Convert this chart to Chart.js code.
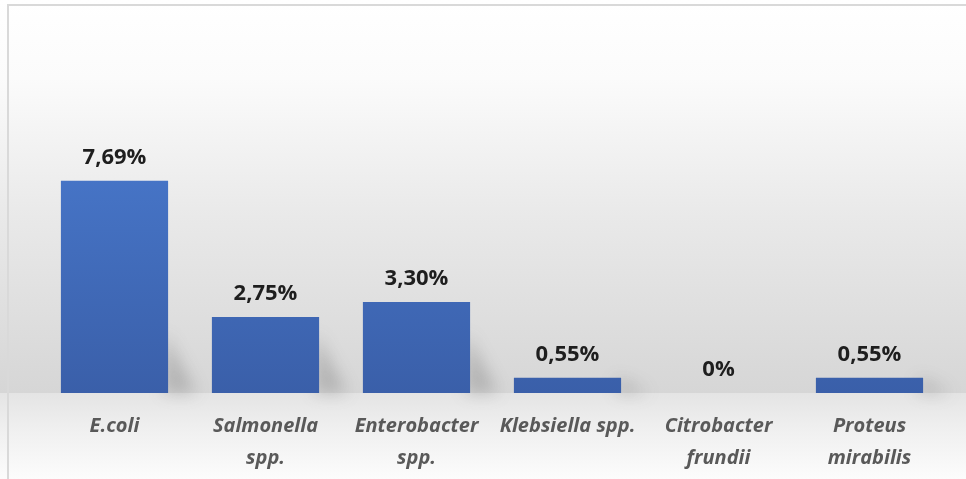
<!DOCTYPE html>
<html>
<head>
<meta charset="utf-8">
<script src="https://cdn.jsdelivr.net/npm/chart.js@4.4.1/dist/chart.umd.min.js"></script>
<style>
  html, body { margin: 0; padding: 0; background: #fff; }
  #wrap { width: 966px; height: 479px; position: relative; }
</style>
</head>
<body>
<div id="wrap"><canvas id="myChart"></canvas></div>
<script>
var categories = [
  ['E.coli'],
  ['Salmonella', 'spp.'],
  ['Enterobacter', 'spp.'],
  ['Klebsiella spp.'],
  ['Citrobacter', 'frundii'],
  ['Proteus', 'mirabilis']
];
var values = [7.69, 2.75, 3.30, 0.55, 0, 0.55];
var valueLabels = ['7,69%', '2,75%', '3,30%', '0,55%', '0%', '0,55%'];

// gray card background with a light floor under the bars
var backdrop = {
  id: 'backdrop',
  beforeDraw: function(chart) {
    var c = chart.ctx, w = chart.width, h = chart.height;
    var base = chart.chartArea.bottom;
    c.save();
    var g = c.createLinearGradient(0, 0, 0, base);
    g.addColorStop(0, '#ffffff');
    g.addColorStop(0.2, '#fbfbfb');
    g.addColorStop(0.55, '#e9e9e9');
    g.addColorStop(1, '#d6d6d6');
    c.fillStyle = g;
    c.fillRect(0, 0, w, base);
    var g2 = c.createLinearGradient(0, base, 0, h);
    g2.addColorStop(0, '#e4e4e4');
    g2.addColorStop(0.4, '#efefef');
    g2.addColorStop(1, '#fcfcfc');
    c.fillStyle = g2;
    c.fillRect(0, base, w, h - base);
    c.strokeStyle = '#d9d9d9';
    c.lineWidth = 2;
    c.beginPath();
    c.moveTo(8, h);
    c.lineTo(8, 5);
    c.lineTo(w, 5);
    c.stroke();
    c.restore();
  },
  // soft shadow falling to the right of each bar's foot
  beforeDatasetsDraw: function(chart) {
    var c = chart.ctx;
    var meta = chart.getDatasetMeta(0);
    c.save();
    c.filter = 'blur(8px)';
    c.fillStyle = 'rgba(70,70,70,0.25)';
    meta.data.forEach(function(bar) {
      var hgt = bar.base - bar.y;
      if (hgt <= 1) return;
      var right = bar.x + bar.width / 2;
      var sh = Math.min(hgt, 60);
      c.beginPath();
      c.moveTo(right - 4, bar.base);
      c.lineTo(right - 4, bar.base - sh);
      c.lineTo(right + 28, bar.base);
      c.closePath();
      c.fill();
    });
    c.restore();
  },
  afterDatasetsDraw: function(chart) {
    var c = chart.ctx;
    var meta = chart.getDatasetMeta(0);
    c.save();
    c.font = 'bold 22px "Open Sans"';
    c.fillStyle = '#1e1e1e';
    c.textAlign = 'center';
    c.textBaseline = 'middle';
    meta.data.forEach(function(bar, i) {
      c.fillText(valueLabels[i], bar.x, bar.y - 23);
    });
    c.restore();
  }
};

var ctx = document.getElementById('myChart').getContext('2d');
var myChart = new Chart(ctx, {
  type: 'bar',
  data: {
    labels: categories,
    datasets: [{
      data: values,
      backgroundColor: function(context) {
        var area = context.chart.chartArea;
        if (!area) return '#4472c4';
        var g = context.chart.ctx.createLinearGradient(0, area.top + 60, 0, area.bottom);
        g.addColorStop(0, '#4674c6');
        g.addColorStop(1, '#3a5fa9');
        return g;
      },
      borderWidth: 0,
      barPercentage: 1,
      categoryPercentage: 0.71
    }]
  },
  options: {
    responsive: true,
    maintainAspectRatio: false,
    animation: false,
    layout: { padding: { left: 39, right: 21, top: 117, bottom: 4 } },
    plugins: { legend: { display: false }, tooltip: { enabled: false } },
    scales: {
      x: {
        grid: { display: false, drawTicks: false },
        border: { display: false },
        ticks: {
          padding: 17,
          color: '#595959',
          maxRotation: 0,
          autoSkip: false,
          font: { family: 'Open Sans', size: 20, style: 'italic', weight: 'bold', lineHeight: 1.6 }
        },
        afterFit: function(scale) { scale.height = 82; }
      },
      y: {
        display: false,
        min: 0,
        max: 10
      }
    }
  },
  plugins: [backdrop]
});
</script>
</body>
</html>
